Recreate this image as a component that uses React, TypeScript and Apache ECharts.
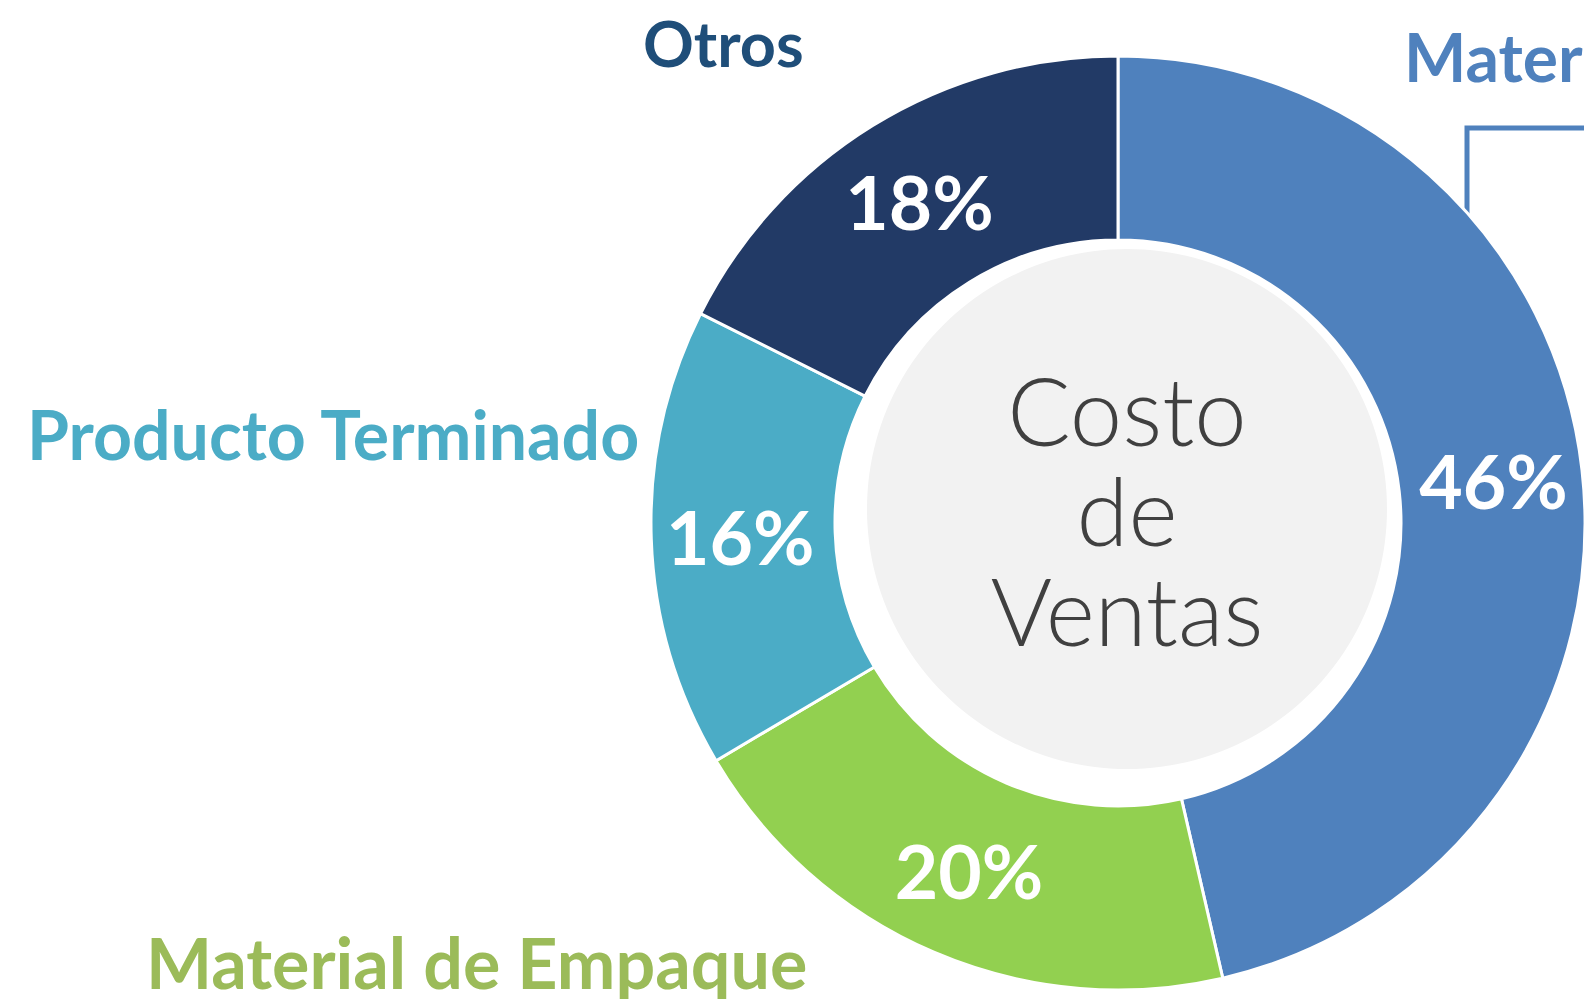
import React, { useEffect, useRef } from "react";
import * as echarts from "echarts";

const categories = ["Materia Prima", "Material de Empaque", "Producto Terminado", "Otros"];
const values = [46.4, 20.1, 15.9, 17.6];
const sliceColors = ["#4F81BD", "#92D050", "#4BACC6", "#223A66"];
const labelColors = ["#4F81BD", "#9BBB59", "#4BACC6", "#1F4E79"];
const centerTitle = ["Costo", "de", "Ventas"];

// label anchor spots (left edge x, vertical middle y) and font sizes
const labelSpots: [number, number][] = [
  [1404, 56],
  [146, 962],
  [27, 433],
  [643, 42],
];
const labelSizes = [66, 70, 68, 63];

export default function App() {
  const ref = useRef<HTMLDivElement>(null);
  useEffect(() => {
    if (!ref.current) return;
    const chart = echarts.init(ref.current, null, { renderer: "svg" });
    const total = values.reduce((a, b) => a + b, 0);
    const donutCenter = [1118, 523];
    chart.setOption({
      animation: false,
      backgroundColor: "#ffffff",
      series: [
        {
          type: "pie",
          silent: true,
          center: [1127, 509],
          radius: [0, 260],
          itemStyle: { color: "#F2F2F2" },
          label: {
            show: true,
            position: "center",
            formatter: centerTitle.join("\n"),
            fontFamily: "Lato",
            fontWeight: 300,
            fontSize: 94,
            lineHeight: 100,
            color: "#404040",
          },
          labelLine: { show: false },
          data: [{ value: 1, name: "Costo de Ventas" }],
        },
        {
          type: "pie",
          silent: true,
          center: donutCenter,
          radius: [283, 467],
          startAngle: 90,
          clockwise: true,
          itemStyle: { borderColor: "#ffffff", borderWidth: 3 },
          label: {
            show: true,
            position: "inside",
            formatter: (p: any) => Math.round((p.value / total) * 100) + "%",
            fontFamily: "Lato",
            fontWeight: "bold",
            fontSize: 75,
            color: "#ffffff",
          },
          labelLine: { show: false },
          data: categories.map((c, i) => ({
            name: c,
            value: values[i],
            itemStyle: { color: sliceColors[i] },
          })),
        },
        {
          type: "pie",
          silent: true,
          center: donutCenter,
          radius: [283, 467],
          startAngle: 90,
          clockwise: true,
          itemStyle: { color: "rgba(0,0,0,0)", borderWidth: 0 },
          label: {
            show: true,
            position: "outside",
            overflow: "none",
            formatter: "{b}",
            fontFamily: "Lato",
            fontWeight: "bold",
            fontSize: 66,
          },
          labelLine: { show: false },
          labelLayout: (p: any) => {
            const s = labelSpots[p.dataIndex];
            const out: any = { x: s[0], y: s[1], align: "left", verticalAlign: "middle" };
            if (p.dataIndex === 0) {
              out.labelLinePoints = [
                [1467, 214],
                [1467, 128],
                [1620, 128],
              ];
            }
            return out;
          },
          data: categories.map((c, i) => ({
            name: c,
            value: values[i],
            label: { color: labelColors[i], fontSize: labelSizes[i], overflow: "none" },
            labelLine:
              i === 0
                ? { show: true, lineStyle: { color: "#4F81BD", width: 5 } }
                : { show: false },
          })),
        },
      ],
    });
    return () => chart.dispose();
  }, []);
  return (
    <div
      ref={ref}
      style={{ position: "absolute", left: 0, top: 0, width: 1584, height: 999 }}
    />
  );
}
